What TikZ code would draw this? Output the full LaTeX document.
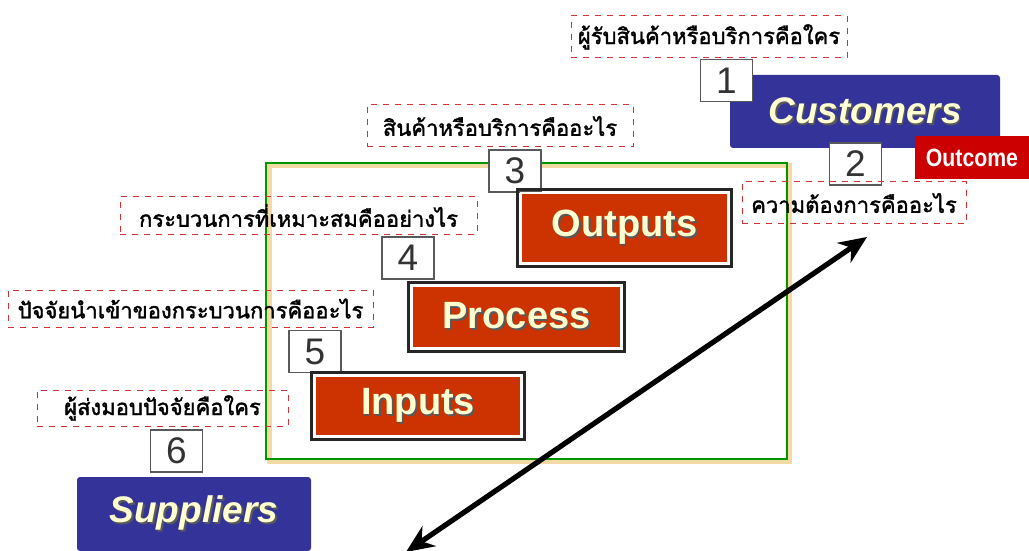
\documentclass[tikz,border=0pt]{standalone}
\usepackage{fontspec}
\setmainfont{Liberation Sans}
\newfontfamily\thaifont[Script=Thai, FakeBold=1.6]{Loma}
\usetikzlibrary{arrows.meta}
\definecolor{partyblue}{RGB}{51,51,153}
\definecolor{procred}{RGB}{204,51,0}
\definecolor{outred}{RGB}{204,0,0}
\definecolor{cream}{RGB}{255,255,210}
\definecolor{dashred}{RGB}{204,51,51}
\definecolor{framegreen}{RGB}{0,150,0}
\definecolor{framebeige}{RGB}{242,218,165}
\newcommand{\shadowed}[1]{\makebox[0pt][l]{\hspace{0.9pt}\raisebox{-0.9pt}{\color{black!65}#1}}#1}
\tikzset{
  partybox/.style={fill=partyblue, rounded corners=1.5pt, inner sep=0pt, text=cream,
    font=\bfseries\itshape\fontsize{18.5}{20}\selectfont},
  procbox/.style={fill=procred, draw=white, line width=0.6pt, inner sep=0pt, text=cream,
    font=\bfseries\fontsize{19}{21}\selectfont},
  numbox/.style={fill=white, draw=black!65, line width=0.8pt, minimum width=26pt,
    minimum height=21pt, inner sep=0pt, text=black!80, font=\fontsize{18.5}{19}\selectfont},
  qlabel/.style={draw=dashred, dashed, line width=0.5pt, inner sep=0pt,
    font=\thaifont\fontsize{11}{12}\selectfont},
}
\begin{document}
\begin{tikzpicture}[x=0.5pt,y=-0.5pt,>={Stealth[length=14pt,width=12pt]}]
  \useasboundingbox (0,0) rectangle (1029,551);
  % Frame round the process
  \draw[framebeige, line width=2.5pt] (269,166) rectangle (789,461);
  \draw[framegreen, line width=1.3pt] (266,163) rectangle (787,459);
  % Customers and what they want
  \node[partybox, minimum width=135pt, minimum height=36.5pt] (cust) at (865,111.5) {\shadowed{Customers}};
  \node[numbox] (num1) at (726.5,80.5) {1};
  \node[qlabel, minimum width=138pt, minimum height=21pt] (q1) at (709,37) {ผู้รับสินค้าหรือบริการคือใคร};
  \node[fill=outred, inner sep=0pt, minimum width=57pt, minimum height=21.5pt, text=white,
    font=\bfseries\fontsize{12.5}{14}\selectfont] (outcome) at (972,157.5) {\scalebox{0.85}[1]{Outcome}};
  \node[numbox] (num2) at (855.5,164) {2};
  \node[qlabel, minimum width=112pt, minimum height=21pt] (q2) at (854,203) {ความต้องการคืออะไร};
  % Outputs, process, inputs
  \node[qlabel, minimum width=133pt, minimum height=21pt] (q3) at (500,126) {สินค้าหรือบริการคืออะไร};
  \node[numbox] (num3) at (515,171) {3};
  \node[procbox, minimum width=103.5pt, minimum height=35pt] (outputs) at (624.5,228) {\shadowed{Outputs}};
  \node[qlabel, minimum width=178.5pt, minimum height=18.5pt] (q4) at (298.5,215.5) {กระบวนการที่เหมาะสมคืออย่างไร};
  \node[numbox] (num4) at (408,258) {4};
  \node[procbox, minimum width=104.5pt, minimum height=31pt] (process) at (516.5,317) {\shadowed{Process}};
  \node[qlabel, minimum width=182.5pt, minimum height=18.5pt] (q5) at (190.5,308.5) {ปัจจัยนำเข้าของกระบวนการคืออะไร};
  \node[numbox] (num5) at (315,351.5) {5};
  \node[procbox, minimum width=103pt, minimum height=30pt] (inputs) at (418,406) {\shadowed{Inputs}};
  \foreach \n in {outputs,process,inputs}{
    % black rim outside the white edge
    \draw[black!85, line width=1.4pt] ([shift={(-1.4pt,1.4pt)}]\n.north west) rectangle ([shift={(1.4pt,-1.4pt)}]\n.south east);
  }
  % Suppliers
  \node[qlabel, minimum width=125.5pt, minimum height=18pt] (q6) at (162.5,408) {ผู้ส่งมอบปัจจัยคือใคร};
  \node[numbox] (num6) at (176.5,451) {6};
  \node[partybox, minimum width=117pt, minimum height=37pt] (supp) at (194,514) {\shadowed{Suppliers}};
  % Two-way arrow
  \coordinate (suppend) at (406,552);
  \coordinate (needend) at (867,237);
  \draw[<->, line width=2.6pt] (suppend) -- (needend);
\end{tikzpicture}
\end{document}
